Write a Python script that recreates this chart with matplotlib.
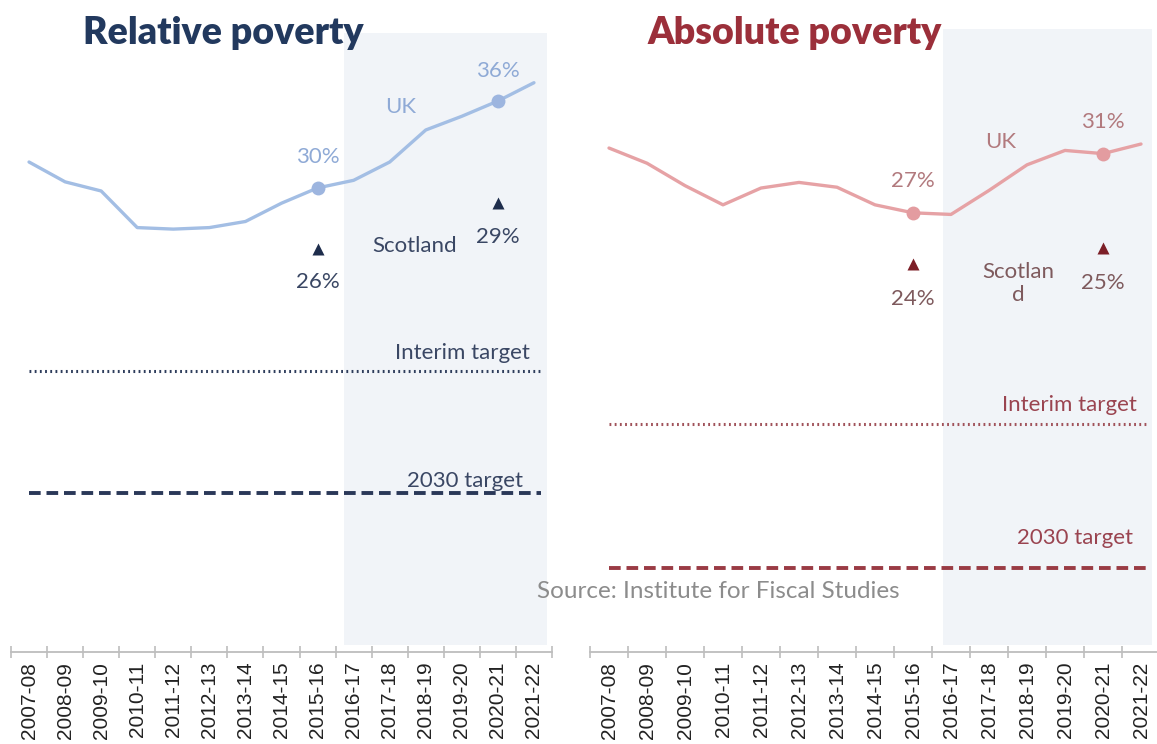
import matplotlib
matplotlib.use('Agg')
import matplotlib.pyplot as plt

plt.rcParams['font.family'] = ['Lato', 'DejaVu Sans']

years = ['2007-08', '2008-09', '2009-10', '2010-11', '2011-12', '2012-13', '2013-14',
         '2014-15', '2015-16', '2016-17', '2017-18', '2018-19', '2019-20', '2020-21', '2021-22']

# UK rates (%)
uk_relative = [31.7, 30.4, 29.8, 27.4, 27.3, 27.4, 27.8, 29.0, 30.0, 30.5, 31.7, 33.8, 34.7, 35.7, 36.9]
uk_absolute = [31.25, 30.3, 28.9, 27.7, 28.75, 29.1, 28.8, 27.7, 27.2, 27.1, 28.6, 30.2, 31.1, 30.9, 31.5]

# highlighted years (index into years)
marked_idx = [8, 13]
uk_rel_labels = ['30%', '36%']
uk_abs_labels = ['27%', '31%']
scot_relative = [26, 29]
scot_absolute = [24, 25]
scot_rel_labels = ['26%', '29%']
scot_abs_labels = ['24%', '25%']

# Scottish child poverty targets (%)
rel_targets = {'interim': 18, '2030': 10}
abs_targets = {'interim': 14, '2030': 5}

W, H = 1157, 744
FS = 16
fig = plt.figure(figsize=(W / 100, H / 100), dpi=100)
fig.patch.set_facecolor('white')

x = list(range(len(years)))


def panel(rect, ylim, uk, uk_labels, scot, scot_labels, targets, c):
    ax = fig.add_axes(rect)
    ax.set_xlim(-0.5, 14.5)
    ax.set_ylim(*ylim)
    ax.axvspan(c['shade_from'], c['shade_to'], ymin=0.012, ymax=1, color='#F1F4F8', lw=0, zorder=0)

    ax.plot(x, uk, color=c['uk_line'], lw=2.4, zorder=3, solid_capstyle='round')
    for i, v, lab in zip(marked_idx, [uk[j] for j in marked_idx], uk_labels):
        ax.plot(i, v, 'o', ms=10, color=c['uk_dot'], mec='none', zorder=4)
        ax.text(i, v + c['uk_lab_dy'], lab, ha='center', va='center', fontsize=FS, color=c['uk_text'])
    for i, v, lab in zip(marked_idx, scot, scot_labels):
        ax.plot(i, v, '^', ms=9, color=c['scot_mark'], mec='none', zorder=4)
        ax.text(i, v - 2.2, lab, ha='center', va='center', fontsize=FS, color=c['scot_text'])

    ax.plot([0, 14.2], [targets['interim']] * 2, color=c['tgt_dot'], lw=2.2,
            linestyle=(0, (0.6, 1.1)), zorder=2)
    ax.plot([0, 14.2], [targets['2030']] * 2, color=c['tgt_dash'], lw=2.8,
            linestyle=(0, (3.0, 1.5)), zorder=2)

    for s in ['top', 'right', 'left']:
        ax.spines[s].set_visible(False)
    ax.spines['bottom'].set_color('#BDBDBD')
    ax.spines['bottom'].set_linewidth(1.3)
    ax.set_yticks([])
    ax.set_xticks(x)
    ax.set_xticklabels(years, rotation=90, fontsize=15, color='#222222', family='Liberation Sans')
    ax.tick_params(axis='x', which='major', length=0, pad=7)
    ax.set_xticks([i - 0.5 for i in range(len(years) + 1)], minor=True)
    ax.tick_params(axis='x', which='minor', length=8, direction='inout', color='#BDBDBD', width=1.2)
    return ax


left_c = dict(shade_from=8.72, shade_to=14.36, uk_line='#A3BEE4', uk_dot='#9DB5DF', uk_text='#8FAAD6',
              uk_lab_dy=2.0, scot_mark='#1E2D4C', scot_text='#3A4764', tgt_dot='#2E3D5C', tgt_dash='#2A3858')
right_c = dict(shade_from=8.79, shade_to=14.3, uk_line='#E6A2A5', uk_dot='#E39CA0', uk_text='#B27A7E',
               uk_lab_dy=2.0, scot_mark='#7C1F27', scot_text='#7E5A5D', tgt_dot='#A0525A', tgt_dash='#9A3B44')

axl = panel([11 / W, 1 - 652 / H, 541 / W, 619 / H], (-0.43, 40.16), uk_relative, uk_rel_labels,
            scot_relative, scot_rel_labels, rel_targets, left_c)
axr = panel([590 / W, 1 - 652 / H, 570 / W, 623 / H], (-0.25, 38.69), uk_absolute, uk_abs_labels,
            scot_absolute, scot_abs_labels, abs_targets, right_c)

# series names and target labels
axl.text(10.3, 35.3, 'UK', ha='center', va='center', fontsize=FS, color='#8FAAD6')
axl.text(10.7, 26.2, 'Scotland', ha='center', va='center', fontsize=FS, color='#3A4764')
axl.text(13.9, 19.2, 'Interim target', ha='right', va='center', fontsize=FS, color='#3A4764')
axl.text(13.7, 10.8, '2030 target', ha='right', va='center', fontsize=FS, color='#3A4764')

axr.text(10.3, 31.6, 'UK', ha='center', va='center', fontsize=FS, color='#B27A7E')
axr.text(10.76, 22.8, 'Scotlan\nd', ha='center', va='center', fontsize=FS, color='#7E5A5D',
         linespacing=1.2)
axr.text(13.9, 15.2, 'Interim target', ha='right', va='center', fontsize=FS, color='#9A4450')
axr.text(13.8, 6.9, '2030 target', ha='right', va='center', fontsize=FS, color='#9A4450')

fig.text(83 / W, 1 - 33 / H, 'Relative poverty', ha='left', va='center', fontsize=27,
         fontweight='heavy', color='#22395E')
fig.text(647 / W, 1 - 33 / H, 'Absolute poverty', ha='left', va='center', fontsize=27,
         fontweight='heavy', color='#9B2F3A')
fig.text(537 / W, 1 - 592 / H, 'Source: Institute for Fiscal Studies', ha='left', va='center',
         fontsize=17.5, color='#8C8C8C')

fig.savefig('out.png', dpi=100)
